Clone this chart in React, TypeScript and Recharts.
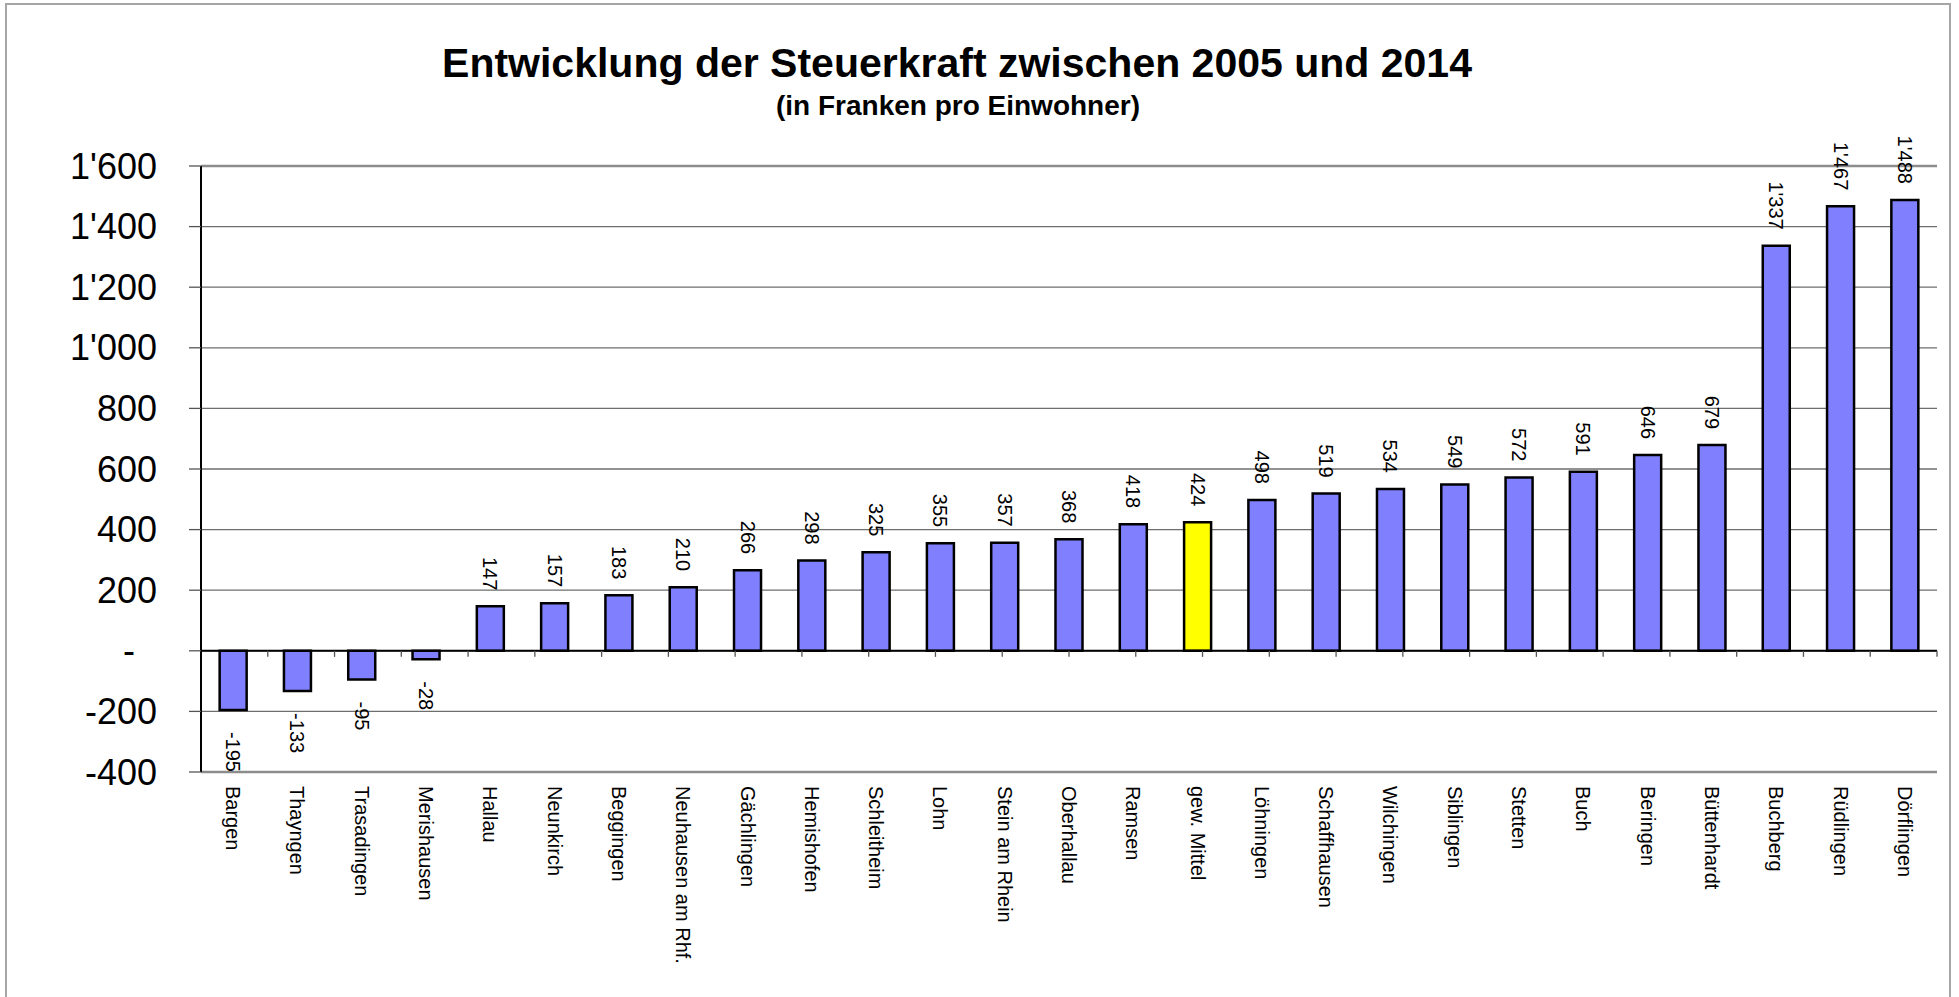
import React from 'react';
import {
  BarChart,
  Bar,
  XAxis,
  YAxis,
  CartesianGrid,
  ReferenceLine,
  LabelList,
  Cell,
} from 'recharts';

const categories = [
  'Bargen', 'Thayngen', 'Trasadingen', 'Merishausen', 'Hallau', 'Neunkirch',
  'Beggingen', 'Neuhausen am Rhf.', 'Gächlingen', 'Hemishofen', 'Schleitheim',
  'Lohn', 'Stein am Rhein', 'Oberhallau', 'Ramsen', 'gew. Mittel', 'Löhningen',
  'Schaffhausen', 'Wilchingen', 'Siblingen', 'Stetten', 'Buch', 'Beringen',
  'Büttenhardt', 'Buchberg', 'Rüdlingen', 'Dörflingen',
];

const values = [
  -195, -133, -95, -28, 147, 157, 183, 210, 266, 298, 325, 355, 357, 368, 418,
  424, 498, 519, 534, 549, 572, 591, 646, 679, 1337, 1467, 1488,
];

const highlighted = ['gew. Mittel'];

const yTicks = [-400, -200, 0, 200, 400, 600, 800, 1000, 1200, 1400, 1600];

const FONT = '"Liberation Sans", Arial, Helvetica, sans-serif';
const BAR_COLOR = '#8080ff';
const HIGHLIGHT_COLOR = '#ffff00';

const fmt = (v: number) => {
  const s = String(Math.abs(v)).replace(/\B(?=(\d{3})+(?!\d))/g, "'");
  return v < 0 ? '-' + s : s;
};

const data = categories.map((name, i) => ({ name, value: values[i] }));

function YTick(props: any) {
  const { x, y, payload } = props;
  const v = payload.value as number;
  return (
    <text
      x={v === 0 ? x - 22 : x}
      y={y}
      textAnchor="end"
      dominantBaseline="central"
      fontSize={36}
      fontFamily={FONT}
      fill="#000"
    >
      {v === 0 ? '-' : fmt(v)}
    </text>
  );
}

function XTick(props: any) {
  const { x, y, payload } = props;
  return (
    <text
      transform={`translate(${x},${y}) rotate(90)`}
      textAnchor="start"
      dominantBaseline="central"
      fontSize={20}
      fontFamily={FONT}
      fill="#000"
    >
      {payload.value}
    </text>
  );
}

function ValueLabel(props: any) {
  const { x, y, width, height, value } = props;
  const cx = x + width / 2;
  const top = Math.min(y, y + height);
  const bottom = Math.max(y, y + height);
  const neg = value < 0;
  return (
    <text
      transform={`translate(${cx},${neg ? bottom + 22 : top - 16}) rotate(90)`}
      textAnchor={neg ? 'start' : 'end'}
      dominantBaseline="central"
      fontSize={20}
      fontFamily={FONT}
      fill="#000"
    >
      {fmt(value)}
    </text>
  );
}

export default function App() {
  const boundaries = categories.slice(1).map((_, i) => i + 1);

  return (
    <div
      style={{
        position: 'absolute',
        left: 0,
        top: 0,
        width: 1959,
        height: 997,
        overflow: 'hidden',
        background: '#fff',
      }}
    >
      {/* outer chart frame, bottom edge falls outside the picture */}
      <div
        style={{
          position: 'absolute',
          left: 5,
          top: 3,
          width: 1942,
          height: 1010,
          border: '2px solid #a6a6a6',
        }}
      />
      <svg
        width={1959}
        height={130}
        style={{ position: 'absolute', left: 0, top: 0 }}
      >
        <text
          x={957}
          y={77}
          textAnchor="middle"
          fontSize={41}
          fontWeight="bold"
          fontFamily={FONT}
          fill="#000"
        >
          Entwicklung der Steuerkraft zwischen 2005 und 2014
        </text>
        <text
          x={958}
          y={115}
          textAnchor="middle"
          fontSize={28}
          fontWeight="bold"
          fontFamily={FONT}
          fill="#000"
        >
          (in Franken pro Einwohner)
        </text>
      </svg>
      <div style={{ position: 'absolute', left: 0, top: 0 }}>
        <BarChart
          width={1959}
          height={997}
          data={data}
          margin={{ top: 166, right: 22, bottom: 25, left: 0 }}
          barCategoryGap="29%"
        >
          <CartesianGrid horizontal vertical={false} stroke="#6e6e6e" strokeWidth={1.3} />
          <XAxis
            dataKey="name"
            interval={0}
            height={200}
            axisLine={false}
            tickLine={false}
            tickSize={0}
            tickMargin={14}
            tick={<XTick />}
          />
          <XAxis
            xAxisId="b"
            type="number"
            domain={[0, categories.length]}
            allowDataOverflow
            hide
          />
          <YAxis
            width={201}
            domain={[-400, 1600]}
            ticks={yTicks}
            interval={0}
            allowDataOverflow
            axisLine={{ stroke: '#000', strokeWidth: 2 }}
            tickLine={{ stroke: '#555', strokeWidth: 1.3 }}
            tickSize={12}
            tickMargin={32}
            tick={<YTick />}
          />
          <ReferenceLine y={1600} stroke="#8c8c8c" strokeWidth={2.5} />
          <ReferenceLine y={-400} stroke="#8c8c8c" strokeWidth={2.5} />
          <ReferenceLine xAxisId="b" x={categories.length} stroke="#8c8c8c" strokeWidth={2.5} />
          <Bar
            dataKey="value"
            fill={BAR_COLOR}
            stroke="#000"
            strokeWidth={2.5}
            isAnimationActive={false}
          >
            {data.map((d) => (
              <Cell
                key={d.name}
                fill={highlighted.includes(d.name) ? HIGHLIGHT_COLOR : BAR_COLOR}
              />
            ))}
            <LabelList dataKey="value" content={<ValueLabel />} />
          </Bar>
          <ReferenceLine y={0} stroke="#000" strokeWidth={2} />
          {boundaries.map((b) => (
            <ReferenceLine
              key={b}
              xAxisId="b"
              segment={[
                { x: b, y: 0 },
                { x: b, y: -20 },
              ]}
              stroke="#555"
              strokeWidth={1.3}
            />
          ))}
        </BarChart>
      </div>
    </div>
  );
}
